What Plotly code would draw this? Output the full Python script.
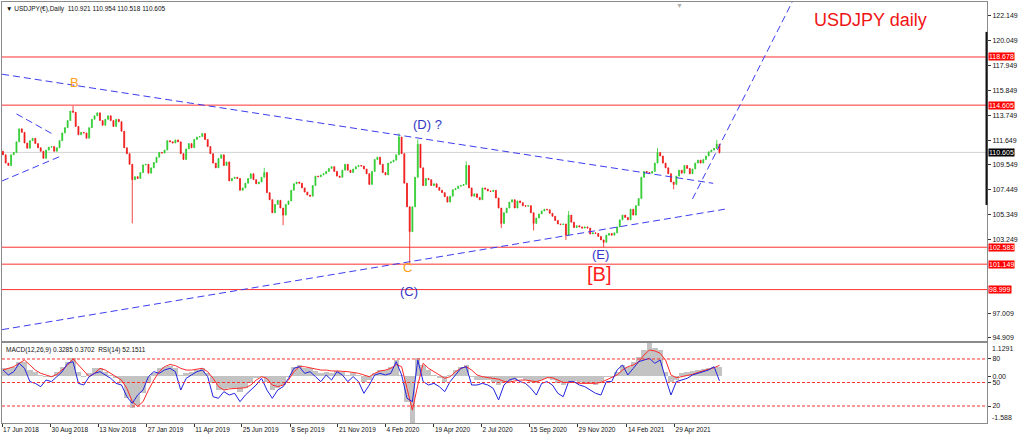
import numpy as np
import pandas as pd
import plotly.graph_objects as go

START = "2018-06-18"

# ---------------- price data (closes sampled every 3 business days) ----------------
price_close = [
    110.4, 109.7, 109.5, 110.4, 110.6, 111.5, 112.6, 112.3, 111.4, 110.96,
    111.6, 111.8, 111.35, 111.0, 110.7, 110.1, 110.8, 111.05, 111.1, 110.7,
    111.0, 111.6, 112.25, 112.7, 113.3, 114.1, 114.0, 112.8, 112.1, 112.3,
    112.25, 111.8, 112.7, 113.4, 113.7, 113.95, 113.3, 112.9, 113.4, 113.7,
    113.3, 112.8, 113.4, 113.2, 112.4, 111.0, 110.5, 109.6, 108.3, 108.55,
    108.4, 108.9, 109.55, 109.6, 108.85, 109.3, 109.75, 110.2, 110.6, 110.55,
    110.8, 111.6, 111.5, 111.4, 111.66, 111.5, 110.5, 110.0, 110.9, 111.35,
    111.0, 111.7, 111.9, 111.95, 112.2, 111.7, 111.1, 110.5, 109.7, 109.3,
    110.1, 110.4, 109.5, 109.8, 108.2, 108.4, 108.5, 108.4, 107.4, 107.6,
    108.0, 108.4, 108.8, 108.3, 107.95, 108.1, 108.5, 108.9, 107.2, 106.6,
    105.5, 106.2, 106.55, 105.9, 105.3, 106.2, 106.5, 107.4, 107.95, 108.1,
    108.0, 107.6, 107.25, 107.0, 106.9, 107.8, 108.6, 108.55, 108.7, 108.8,
    109.0, 109.25, 109.4, 109.0, 108.6, 108.5, 109.1, 109.6, 109.1, 108.9,
    109.2, 109.4, 109.5, 109.45, 109.2, 108.8, 107.9, 109.0, 110.0, 110.2,
    109.6, 108.9, 108.7, 109.7, 109.8, 109.95, 110.4, 111.9, 110.5, 108.0,
    106.0, 103.9, 106.0, 108.5, 111.3, 109.3, 107.8, 108.4, 108.3, 107.8,
    107.95, 107.65, 107.4, 107.2, 106.85, 106.4, 106.9, 107.45, 107.55, 107.75,
    107.8, 107.9, 109.5, 107.6, 106.9, 107.1, 106.8, 106.6, 107.6, 107.5,
    107.35, 107.3, 107.4, 106.75, 105.9, 104.6, 105.5, 105.9, 106.4, 106.6,
    105.9, 106.5, 106.35, 106.1, 106.05, 106.1, 105.5, 104.6, 105.05, 105.4,
    105.65, 105.8, 105.75, 105.45, 105.2, 104.85, 104.55, 104.5, 104.55, 103.6,
    105.3, 104.7, 104.25, 104.4, 104.3, 104.2, 104.3, 104.2, 103.7, 103.8,
    103.75, 103.5, 103.2, 103.0, 103.6, 103.75, 103.6, 103.8, 104.3, 104.9,
    105.3, 105.1, 104.9, 105.8, 105.3, 106.1, 106.7, 108.5, 109.0, 108.9,
    108.85, 109.0, 109.7, 110.6, 110.3, 109.7, 109.3, 108.8, 108.1, 107.9,
    108.6, 109.1, 108.85, 109.5, 109.25, 108.8, 109.2, 109.7, 109.95, 109.7,
    110.0, 110.3, 110.65, 110.8, 110.95, 111.3, 110.6,
]
first_open = 110.7

spike_highs = {
    "2018-10-04": 114.55, "2019-07-30": 109.3, "2020-02-25": 112.23,
    "2020-03-25": 111.71, "2020-06-09": 109.85, "2020-11-16": 105.65,
    "2021-04-02": 110.97, "2021-07-05": 111.66,
}
spike_lows = {
    "2019-01-04": 104.6, "2019-08-28": 104.45, "2020-03-12": 101.18,
    "2020-08-03": 104.2, "2020-09-22": 104.0, "2020-11-11": 103.2,
    "2021-01-08": 102.59, "2021-04-28": 107.48, "2021-07-08": 110.518,
}

# ---------------- indicator data (sampled every 6 business days) ----------------
macd_main = [
    0.27, 0.27, 0.325, 0.49, 0.49, 0.21, 0.155, 0.042, -0.015, -0.015,
    0.155, 0.325, 0.49, 0.61, 0.155, -0.015, 0.10, 0.27, 0.27, 0.155,
    0.042, -0.07, -0.24, -0.75, -1.09, -0.98, -0.58, -0.24, 0.10, 0.27,
    0.325, 0.36, 0.27, 0.042, 0.10, 0.155, 0.21, 0.27, 0.10, -0.24,
    -0.47, -0.47, -0.41, -0.41, -0.52, -0.41, -0.24, -0.07, -0.015, -0.185,
    -0.47, -0.41, -0.30, -0.015, 0.325, 0.38, 0.27, 0.27, 0.18, 0.10,
    0.155, 0.10, 0.18, 0.155, 0.042, 0.10, 0.042, -0.185, -0.13, 0.10,
    0.21, 0.21, 0.325, 0.55, 0.042, -0.86, -1.58, 0.62, 0.38, 0.21,
    0.042, -0.07, -0.185, 0.042, 0.21, 0.325, 0.38, -0.015, -0.13, -0.13,
    -0.13, -0.185, -0.30, -0.24, -0.185, -0.13, -0.07, -0.13, -0.185, -0.24,
    -0.13, -0.07, -0.13, -0.24, -0.30, -0.185, -0.16, -0.185, -0.24, -0.24,
    -0.30, -0.24, -0.015, -0.015, 0.155, 0.38, 0.325, 0.49, 0.66, 0.89,
    1.12, 0.95, 0.89, 0.155, -0.185, -0.13, 0.10, 0.155, 0.18, 0.21,
    0.245, 0.27, 0.325, 0.3285,
]
macd_signal = [
    0.21, 0.27, 0.325, 0.44, 0.55, 0.38, 0.21, 0.10, 0.042, -0.015,
    0.064, 0.21, 0.38, 0.585, 0.38, 0.155, -0.015, 0.10, 0.27, 0.21,
    0.10, -0.015, -0.13, -0.41, -0.86, -1.03, -0.86, -0.47, -0.13, 0.155,
    0.325, 0.40, 0.36, 0.27, 0.21, 0.21, 0.234, 0.27, 0.155, -0.07,
    -0.35, -0.47, -0.43, -0.41, -0.41, -0.39, -0.30, -0.13, -0.015, -0.07,
    -0.30, -0.35, -0.30, -0.13, 0.155, 0.325, 0.325, 0.29, 0.27, 0.21,
    0.21, 0.18, 0.18, 0.18, 0.155, 0.13, 0.10, 0.042, -0.015, 0.10,
    0.18, 0.21, 0.27, 0.40, 0.325, -0.41, -1.15, -0.30, 0.44, 0.27,
    0.155, 0.019, -0.07, -0.015, 0.155, 0.27, 0.325, 0.21, 0.042, -0.015,
    -0.04, -0.06, -0.10, -0.17, -0.20, -0.16, -0.13, -0.13, -0.16, -0.185,
    -0.13, -0.05, -0.05, -0.13, -0.21, -0.21, -0.21, -0.24, -0.24, -0.24,
    -0.24, -0.21, -0.13, -0.05, 0.042, 0.21, 0.325, 0.38, 0.49, 0.72,
    0.89, 0.86, 0.78, 0.55, 0.042, -0.05, -0.015, 0.019, 0.064, 0.13,
    0.18, 0.245, 0.29, 0.3702,
]
rsi_values = [
    66.0, 59.6, 63.8, 74.5, 68.1, 51.1, 48.9, 44.7, 53.2, 51.1,
    57.5, 63.8, 74.5, 76.6, 48.9, 46.8, 57.5, 61.7, 63.8, 59.6,
    55.3, 48.9, 46.8, 31.9, 23.4, 34.0, 40.4, 57.5, 63.8, 61.7,
    66.0, 68.1, 63.8, 40.4, 55.3, 59.6, 63.8, 66.0, 57.5, 31.9,
    29.8, 38.3, 34.0, 36.2, 25.5, 34.0, 40.4, 46.8, 55.3, 40.4,
    29.8, 40.4, 44.7, 55.3, 68.1, 70.2, 61.7, 63.8, 57.5, 51.1,
    59.6, 53.2, 63.8, 59.6, 51.1, 57.5, 51.1, 36.2, 46.8, 59.6,
    61.7, 59.6, 61.7, 76.6, 59.6, 29.8, 25.5, 78.7, 51.1, 46.8,
    48.9, 44.7, 38.3, 51.1, 59.6, 68.1, 70.2, 46.8, 46.8, 48.9,
    46.8, 42.6, 27.7, 46.8, 53.2, 55.3, 51.1, 48.9, 42.6, 34.0,
    48.9, 51.1, 46.8, 36.2, 31.9, 51.1, 51.1, 46.8, 44.7, 40.4,
    36.2, 34.0, 51.1, 51.1, 66.0, 72.3, 59.6, 68.1, 76.6, 78.7,
    80.9, 74.5, 78.7, 55.3, 34.0, 51.1, 53.2, 55.3, 59.6, 61.7,
    63.8, 66.0, 70.2, 52.15,
]
rsi_levels = [80, 50, 20]

# ---------------- levels, ticks, lines, labels ----------------
level_lines = [118.678, 114.605, 102.583, 101.149, 98.999]
last_price = 110.605
visible_range = [106.16, 120.8]
price_ticks = [122.149, 120.049, 117.949, 115.849, 113.749, 111.649, 109.549,
               107.449, 105.349, 103.249, 97.009, 94.909]
date_tick_labels = ["17 Jun 2018", "30 Aug 2018", "13 Nov 2018", "27 Jan 2019",
                    "11 Apr 2019", "25 Jun 2019", "8 Sep 2019", "21 Nov 2019",
                    "4 Feb 2020", "19 Apr 2020", "2 Jul 2020", "15 Sep 2020",
                    "29 Nov 2020", "14 Feb 2021", "29 Apr 2021"]

trend_start_dates = ["2018-06-15", "2018-06-15", "2018-07-09", "2018-06-15", "2021-05-27"]
trend_start_prices = [117.22, 95.61, 113.86, 108.19, 106.67]
trend_end_dates = ["2021-06-29", "2021-07-16", "2018-09-03", "2018-09-17", "2021-10-29"]
trend_end_prices = [107.99, 105.8, 112.17, 110.31, 123.33]

wave_texts = ["B", "C", "(C)", "(D) ?", "(E)", "[B]"]
wave_dates = ["2018-10-08", "2020-03-10", "2020-03-11", "2020-04-09", "2021-01-04", "2021-01-01"]
wave_prices = [116.5, 100.83, 98.80, 112.93, 101.93, 100.32]

header_text = "\u25BC USDJPY(\u20AC),Daily  110.921 110.954 110.518 110.605"
indicator_text = "MACD(12,26,9) 0.3285 0.3702  RSI(14) 52.1511"
title_text = "USDJPY daily"


def bd(d):
    return int(np.busday_count(np.datetime64(START, "D"),
                               np.datetime64(pd.Timestamp(d).date(), "D")))


# ---------------- derived series ----------------
price_dates = pd.bdate_range(START, periods=len(price_close), freq="3B")
price_x = [bd(d) for d in price_dates]
opens = [first_open] + price_close[:-1]
highs = [max(o, c) for o, c in zip(opens, price_close)]
lows = [min(o, c) for o, c in zip(opens, price_close)]
for d, v in spike_highs.items():
    i = int(price_dates.get_indexer([pd.Timestamp(d)], method="nearest")[0])
    highs[i] = max(highs[i], v)
for d, v in spike_lows.items():
    i = int(price_dates.get_indexer([pd.Timestamp(d)], method="nearest")[0])
    lows[i] = min(lows[i], v)

ind_dates = pd.bdate_range(START, periods=len(rsi_values), freq="6B")
ind_x = [bd(d) for d in ind_dates]

# ---------------- figure ----------------
FONT = "Liberation Sans, Arial, sans-serif"
GREEN = "#2ECC2E"
RED = "#F01818"
BLUE_LINE = "#3C3CF0"
AXIS_GRAY = "#8a8a8a"
X_RANGE = [-1.1, 1096]

fig = go.Figure()
fig.add_trace(go.Candlestick(
    x=price_x, open=opens, high=highs, low=lows, close=price_close,
    increasing=dict(line=dict(color=GREEN, width=0.8), fillcolor=GREEN),
    decreasing=dict(line=dict(color=RED, width=0.8), fillcolor=RED),
    whiskerwidth=0, hoverinfo="skip", showlegend=False,
    xaxis="x", yaxis="y",
))
fig.add_trace(go.Bar(
    x=ind_x, y=macd_main, width=6, marker=dict(color="#C3C3C3", line=dict(width=0)),
    hoverinfo="skip", showlegend=False, xaxis="x2", yaxis="y2",
))
fig.add_trace(go.Scatter(
    x=ind_x, y=macd_signal, mode="lines", line=dict(color="#FF2A2A", width=1),
    hoverinfo="skip", showlegend=False, xaxis="x2", yaxis="y2",
))
fig.add_trace(go.Scatter(
    x=ind_x, y=rsi_values, mode="lines", line=dict(color="#2323E0", width=1),
    hoverinfo="skip", showlegend=False, xaxis="x2", yaxis="y3",
))

shapes = []
shapes.append(dict(type="line", xref="x domain", x0=0, x1=1, yref="y",
                   y0=last_price, y1=last_price, line=dict(color="#D2D2D2", width=1),
                   layer="below"))
for lv in level_lines:
    shapes.append(dict(type="line", xref="x domain", x0=0, x1=1, yref="y",
                       y0=lv, y1=lv, line=dict(color="#FF3030", width=1)))
for d0, p0, d1, p1 in zip(trend_start_dates, trend_start_prices, trend_end_dates, trend_end_prices):
    shapes.append(dict(type="line", xref="x", yref="y", x0=bd(d0), y0=p0,
                       x1=bd(d1), y1=p1, line=dict(color=BLUE_LINE, width=1, dash="7px,4px")))
for lv in rsi_levels:
    shapes.append(dict(type="line", xref="x2 domain", x0=0, x1=1, yref="y3",
                       y0=lv, y1=lv, line=dict(color="#FF3030", width=1, dash="3px,2px")))
shapes.append(dict(type="line", xref="x domain", x0=0.9995, x1=0.9995, yref="y",
                   y0=visible_range[0], y1=visible_range[1], line=dict(color="#111", width=2)))

annotations = []
for lv in level_lines:
    annotations.append(dict(xref="paper", x=1, xanchor="left", xshift=1, yref="y", y=lv,
                            yanchor="middle", text=f"{lv:.3f}", showarrow=False,
                            bgcolor="#FF0000", font=dict(family=FONT, size=7, color="white"),
                            borderpad=0))
annotations.append(dict(xref="paper", x=1, xanchor="left", xshift=1, yref="y", y=last_price,
                        yanchor="middle", text=f"{last_price:.3f}", showarrow=False,
                        bgcolor="#000000", font=dict(family=FONT, size=7, color="white"),
                        borderpad=0))
annotations.append(dict(xref="paper", x=1, xanchor="left", xshift=3, yref="y2",
                        y=max(macd_main) + 0.0091, yanchor="top", text="1.1291",
                        showarrow=False, font=dict(family=FONT, size=7, color="#222")))
annotations.append(dict(xref="paper", x=1, xanchor="left", xshift=3, yref="y2", y=-1.588,
                        yanchor="bottom", text="-1.588", showarrow=False,
                        font=dict(family=FONT, size=7, color="#222")))
annotations.append(dict(xref="paper", x=0, xanchor="left", xshift=2, yref="paper", y=1,
                        yanchor="top", yshift=-1, text=header_text, showarrow=False,
                        font=dict(family=FONT, size=6.5, color="#111")))
annotations.append(dict(xref="paper", x=0, xanchor="left", xshift=2, yref="paper", y=0.19,
                        yanchor="top", yshift=-1, text=indicator_text, showarrow=False,
                        font=dict(family=FONT, size=6.5, color="#111")))
annotations.append(dict(xref="paper", x=0.882, xanchor="center", yref="paper", y=0.957,
                        yanchor="middle", text=title_text, showarrow=False,
                        font=dict(family=FONT, size=18, color="#F01414")))
annotations.append(dict(xref="paper", x=0.688, xanchor="center", yref="paper", y=1,
                        yanchor="top", yshift=2, text="\u25BC", showarrow=False,
                        font=dict(family=FONT, size=7, color="#B0B0B0")))
wave_style = {
    "B": ("#FFA020", 13), "C": ("#FFA020", 13), "(C)": ("#3535C8", 13),
    "(D) ?": ("#3535C8", 13), "(E)": ("#3535C8", 13), "[B]": ("#FF2020", 20),
}
for t, d, p in zip(wave_texts, wave_dates, wave_prices):
    col, sz = wave_style[t]
    annotations.append(dict(xref="x", yref="y", x=bd(d), y=p, text=t, showarrow=False,
                            xanchor="center", yanchor="middle",
                            font=dict(family=FONT, size=sz, color=col)))

date_tick_pos = [bd(pd.to_datetime(s, format="%d %b %Y")) for s in date_tick_labels]

fig.update_layout(
    width=1024, height=440,
    margin=dict(l=2, r=37, t=2, b=17, autoexpand=False),
    paper_bgcolor="white", plot_bgcolor="white",
    showlegend=False, bargap=0, boxgap=0.5, hovermode=False,
    shapes=shapes, annotations=annotations,
    xaxis=dict(domain=[0, 1], anchor="y", range=X_RANGE, showticklabels=False,
               showgrid=False, zeroline=False, showline=True, mirror=True,
               linecolor=AXIS_GRAY, linewidth=1, ticks="", rangeslider=dict(visible=False)),
    xaxis2=dict(domain=[0, 1], anchor="y2", matches="x", range=X_RANGE,
                tickvals=date_tick_pos, ticktext=date_tick_labels, ticks="outside",
                ticklen=3, tickcolor="#333", tickangle=0, ticklabelposition="outside right",
                tickfont=dict(family=FONT, size=6.5, color="#111"),
                showgrid=False, zeroline=False, showline=True, mirror=True,
                linecolor=AXIS_GRAY, linewidth=1),
    yaxis=dict(domain=[0.1948, 1], anchor="x", side="right", range=[94.65, 123.33],
               tickvals=price_ticks, ticktext=[f"{v:.3f}" for v in price_ticks],
               ticks="outside", ticklen=3, tickcolor="#333",
               tickfont=dict(family=FONT, size=7, color="#111"),
               showgrid=False, zeroline=False, showline=True, mirror=True,
               linecolor=AXIS_GRAY, linewidth=1),
    yaxis2=dict(domain=[0, 0.190], anchor="x2", side="right", range=[-1.588, 1.1291],
                tickvals=[0], ticktext=["0.00"], ticks="outside", ticklen=3, tickcolor="#333",
                tickfont=dict(family=FONT, size=7, color="#111"),
                showgrid=False, zeroline=False, showline=True, mirror=True,
                linecolor=AXIS_GRAY, linewidth=1),
    yaxis3=dict(overlaying="y2", anchor="x2", side="right", range=[-1.7, 100.4],
                tickvals=rsi_levels, ticktext=[str(v) for v in rsi_levels],
                ticks="outside", ticklen=3, tickcolor="#333",
                tickfont=dict(family=FONT, size=7, color="#111"),
                showgrid=False, zeroline=False, showline=False),
)

fig.write_html(
    "out.html",
    config={"displayModeBar": False, "staticPlot": True},
    post_script="document.body.style.margin='0px';document.body.style.padding='0px';"
                "document.body.style.overflow='hidden';",
)
